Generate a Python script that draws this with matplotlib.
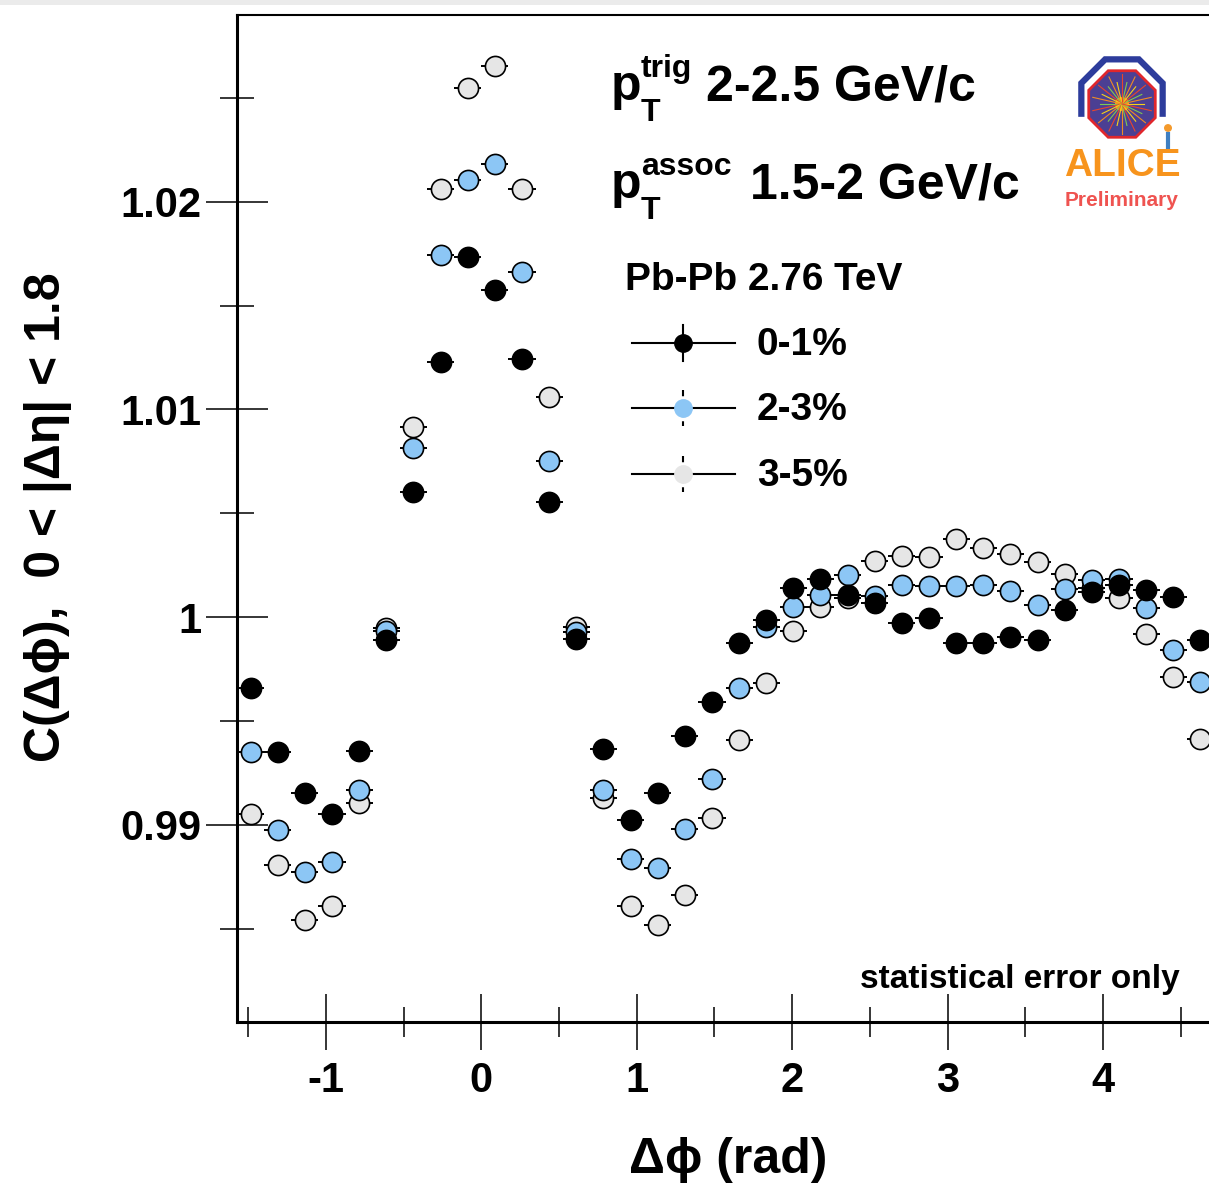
import numpy as np
import matplotlib
matplotlib.use('Agg')
import matplotlib.pyplot as plt
from matplotlib.lines import Line2D
from matplotlib.patches import Polygon, Rectangle, Circle

plt.rcParams['font.family'] = ['Liberation Sans', 'DejaVu Sans']
plt.rcParams['font.weight'] = 'bold'
plt.rcParams['axes.unicode_minus'] = False

# 36 bins in delta phi from -pi/2 to 3pi/2
n_bins = 36
dphi = -np.pi / 2 + (np.arange(n_bins) + 0.5) * 2 * np.pi / n_bins
half_bin = np.pi / n_bins

# C(dphi), values
c_0_1 = [0.99659, 0.99350, 0.99153, 0.99051, 0.99354, 0.99889, 1.00604, 1.01228, 1.01735,
         1.01574, 1.01244, 1.00553, 0.99897, 0.99363, 0.99024, 0.99154, 0.99428, 0.99589,
         0.99873, 0.99986, 1.00138, 1.00182, 1.00106, 1.00066, 0.99973, 0.99994, 0.99873,
         0.99873, 0.99905, 0.99892, 1.00034, 1.00122, 1.00154, 1.00132, 1.00095, 0.99889]
c_2_3 = [0.99350, 0.98976, 0.98772, 0.98823, 0.99166, 0.99934, 1.00814, 1.01746, 1.02105,
         1.02180, 1.01663, 1.00752, 0.99929, 0.99166, 0.98833, 0.98793, 0.98979, 0.99222,
         0.99661, 0.99953, 1.00047, 1.00106, 1.00203, 1.00101, 1.00155, 1.00150, 1.00150,
         1.00154, 1.00127, 1.00058, 1.00136, 1.00178, 1.00183, 1.00043, 0.99844, 0.99688]
c_3_5 = [0.99051, 0.98804, 0.98542, 0.98608, 0.99106, 0.99950, 1.00915, 1.02060, 1.02550,
         1.02654, 1.02064, 1.01060, 0.99953, 0.99130, 0.98611, 0.98518, 0.98664, 0.99034,
         0.99407, 0.99682, 0.99934, 1.00047, 1.00090, 1.00272, 1.00295, 1.00288, 1.00375,
         1.00331, 1.00304, 1.00267, 1.00207, 1.00140, 1.00092, 0.99918, 0.99712, 0.99415]

labels = ['0-1%', '2-3%', '3-5%']
colors = ['black', '#8cc6f5', '#e6e6e6']

W, H = 1209, 1191


def fx(px):
    return px / W


def fy(py):
    return 1 - py / H


fig = plt.figure(figsize=(W / 100, H / 100), dpi=100)
fig.add_artist(Rectangle((0, fy(5)), 1, 5 / H, transform=fig.transFigure,
                         color='#ebebeb', lw=0))

ax = fig.add_axes([fx(237), fy(1022), (1214 - 237) / W, (1022 - 15) / H])
ax.set_xlim(-np.pi / 2, 3 * np.pi / 2)
ax.set_ylim(0.9805, 1.0290)

# draw 3-5% first so 0-1% ends on top
for vals, col, z in [(c_3_5, colors[2], 3), (c_2_3, colors[1], 4), (c_0_1, colors[0], 5)]:
    ax.errorbar(dphi, vals, xerr=half_bin, fmt='o', ms=14.5, mfc=col, mec='black',
                mew=1.2, ecolor='black', elinewidth=1.4, capsize=0, zorder=z)

ax.set_xticks([-1, 0, 1, 2, 3, 4])
ax.set_xticks(np.arange(-1.5, 4.6, 1.0), minor=True)
ax.set_yticks([0.99, 1.0, 1.01, 1.02])
ax.set_yticklabels(['0.99', '1', '1.01', '1.02'])
ax.set_yticks([0.985, 0.995, 1.005, 1.015, 1.025], minor=True)
ax.tick_params(axis='x', which='major', direction='inout', length=40, width=1.1,
               pad=8, labelsize=30)
ax.tick_params(axis='x', which='minor', direction='inout', length=21, width=1.1)
ax.tick_params(axis='y', which='major', direction='inout', length=45, width=1.1,
               pad=3, labelsize=30)
ax.tick_params(axis='y', which='minor', direction='inout', length=24, width=1.1)
for side in ['left', 'bottom']:
    ax.spines[side].set_linewidth(2.2)
ax.spines['top'].set_linewidth(1.5)

fig.text(fx(48), fy(517), 'C(Δϕ),  0 < |Δη| < 1.8', rotation=90, ha='center',
         va='center', size=36)
fig.text(fx(728), fy(1160), 'Δϕ (rad)', ha='center', va='center', size=36)
fig.text(fx(1180), fy(988), 'statistical error only', ha='right', va='baseline', size=24)

# kinematic labels
fig.text(fx(611), fy(100), 'p', ha='left', va='baseline', size=36)
fig.text(fx(641), fy(77), 'trig', ha='left', va='baseline', size=23)
fig.text(fx(641), fy(121), 'T', ha='left', va='baseline', size=23)
fig.text(fx(706), fy(100), '2-2.5 GeV/c', ha='left', va='baseline', size=36)
fig.text(fx(611), fy(198), 'p', ha='left', va='baseline', size=36)
fig.text(fx(641), fy(175), 'assoc', ha='left', va='baseline', size=23)
fig.text(fx(641), fy(219), 'T', ha='left', va='baseline', size=23)
fig.text(fx(750), fy(198), '1.5-2 GeV/c', ha='left', va='baseline', size=36)
fig.text(fx(625), fy(290), 'Pb-Pb 2.76 TeV', ha='left', va='baseline', size=28)

# legend
for py, lab, col, ls in zip([343, 408, 474], labels, colors, ['-', (0, (3, 2)), (0, (3, 2))]):
    fig.add_artist(Line2D([fx(632), fx(735)], [fy(py), fy(py)], transform=fig.transFigure,
                          color='black', lw=1.5))
    fig.add_artist(Line2D([fx(683), fx(683)], [fy(py - 18), fy(py + 18)],
                          transform=fig.transFigure, color='black', lw=1.5, ls=ls))
    fig.add_artist(Line2D([fx(683)], [fy(py)], transform=fig.transFigure, marker='o',
                          ms=12.5, mfc=col, mec=col, ls='none'))
    fig.text(fx(757), fy(py + 2), lab, ha='left', va='center', size=28)

# ALICE logo
cx, cy = 1122, 100
ang = np.deg2rad(22.5 + 45 * np.arange(8))
R = 44
arch = [(fx(cx + R * np.cos(a)), fy(cy - R * np.sin(a))) for a in ang[[7, 0, 1, 2, 3, 4]]]
fig.add_artist(Polygon(arch, closed=False, fill=False, ec='#2d3c9c', lw=4.5,
                       transform=fig.transFigure))
r = 36
octo = [(fx(cx + r * np.cos(a)), fy(cy + 4 - r * np.sin(a))) for a in ang]
fig.add_artist(Polygon(octo, closed=True, fc='#4b3f93', ec='#e0262c', lw=2,
                       transform=fig.transFigure))
ray_cols = ['#f7d117', '#f08a24', '#7ec850', '#e8452c']
for i, a in enumerate(np.linspace(0, 2 * np.pi, 28, endpoint=False)):
    rr = 30 if i % 2 else 22
    fig.add_artist(Line2D([fx(cx), fx(cx + rr * np.cos(a))],
                          [fy(cy + 4), fy(cy + 4 - rr * np.sin(a))],
                          transform=fig.transFigure, color=ray_cols[i % 4], lw=0.8))
fig.add_artist(Circle((fx(cx), fy(cy + 4)), 7 / W, transform=fig.transFigure,
                      fc='#f6a623', ec='none'))
fig.add_artist(Circle((fx(1168), fy(128)), 4 / W, transform=fig.transFigure,
                      fc='#f49a2c', ec='none'))
fig.add_artist(Line2D([fx(1168), fx(1168)], [fy(134), fy(148)], transform=fig.transFigure,
                      color='#3f7fc1', lw=3))
fig.text(fx(1122), fy(166), 'ALICE', ha='center', va='center', size=28,
         color='#f7941d')
fig.text(fx(1122), fy(201), 'Preliminary', ha='center', va='center', size=15,
         color='#ef5350')

fig.savefig('out.png', dpi=100)
